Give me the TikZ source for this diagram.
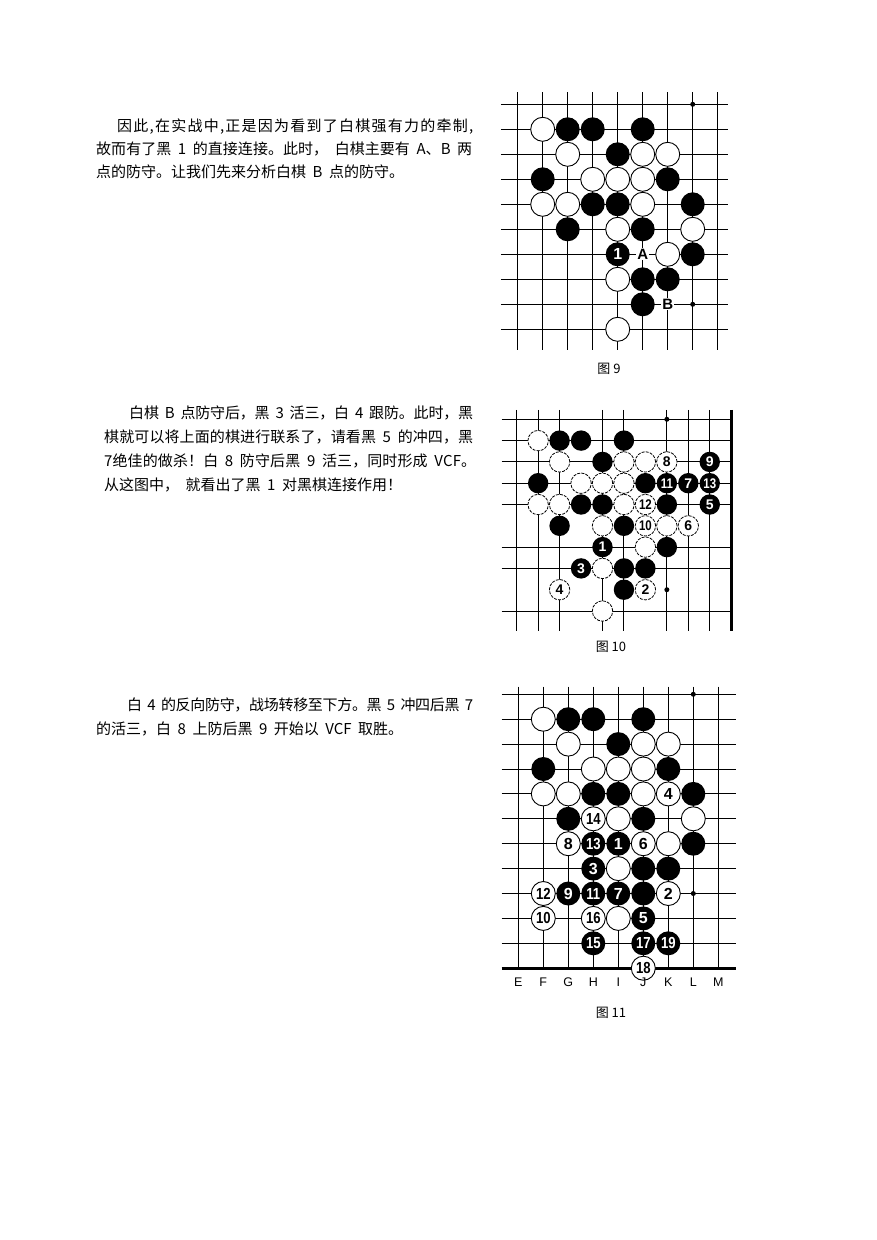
\documentclass[tikz,border=0pt]{standalone}
\usepackage{fontspec}
\usepackage{graphicx}
\newfontfamily\cjk{Noto Sans CJK SC}
\newfontfamily\bsans{Liberation Sans}
\def\sprend{\sprend}
\def\sprendtest{\sprend}
\def\spr#1{\def\sprtmp{#1}\ifx\sprtmp\sprendtest\else{#1}\hskip0pt plus 1fil minus 1pt\relax\expandafter\spr\fi}
\newcommand\jline[2]{\hbox to #1{\spr#2\sprend\unskip}}
\newcommand\dd[1]{\scalebox{0.82}[1]{#1}}
\newcommand\txtfont{\cjk\fontsize{15pt}{16pt}\selectfont\spaceskip=6.5pt minus 2pt\relax}
\begin{document}
\begin{tikzpicture}[x=1pt,y=-1pt,
  grid/.style={line width=1pt,black},
  edge/.style={line width=3pt,black},
  stoneA/.style={circle,inner sep=0pt,minimum size=24pt,font=\bsans\bfseries\fontsize{16pt}{16pt}\selectfont},
  bst/.style={stoneA,fill=black,text=white},
  wst/.style={stoneA,draw=black,line width=0.9pt,fill=white,text=black},
  stoneB/.style={circle,inner sep=0pt,minimum size=20.4pt,font=\bsans\bfseries\fontsize{14pt}{14pt}\selectfont},
  bstb/.style={stoneB,fill=black,text=white},
  wstb/.style={stoneB,draw=black,line width=0.8pt,dash pattern=on 3pt off 1.2pt,fill=white,text=black},
  starpt/.style={circle,fill=black,inner sep=0pt,minimum size=5pt},
  lbl/.style={fill=white,inner sep=1pt,font=\bsans\bfseries\fontsize{15pt}{15pt}\selectfont},
  collbl/.style={inner sep=0pt,font=\bsans\fontsize{12.5pt}{12.5pt}\selectfont},
  txt/.style={anchor=base west,inner sep=0pt,font=\txtfont},
  captxt/.style={inner sep=0pt,font=\cjk\fontsize{13pt}{15pt}\selectfont}
]
\fill[white] (0,0) rectangle (877,1240);
\useasboundingbox (0,0) rectangle (877,1240);

% ---------------- texts ----------------
\node[txt] (t1a) at (117,131) {\jline{356pt}{因此,在实战中,正是因为看到了白棋强有力的牵制,}};
\node[txt] (t1b) at (96,154) {\jline{376pt}{故而有了黑~1~的直接连接。此时，~白棋主要有~A、B~两}};
\node[txt] (t1c) at (96,177) {点的防守。让我们先来分析白棋 B 点的防守。};

\node[txt] (t2a) at (129,418) {\jline{344pt}{白棋~B~点防守后，黑~3~活三，白~4~跟防。此时，黑}};
\node[txt] (t2b) at (104,442) {\jline{369pt}{棋就可以将上面的棋进行联系了，请看黑~5~的冲四，黑}};
\node[txt] (t2c) at (104,466) {\jline{372pt}{7绝佳的做杀！白~8~防守后黑~9~活三，同时形成~V C F。}};
\node[txt] (t2d) at (104,490) {从这图中， 就看出了黑 1 对黑棋连接作用！};

\node[txt] (t3a) at (127,710) {\jline{346pt}{白~4~的反向防守，战场转移至下方。黑~5~冲四后黑~7}};
\node[txt] (t3b) at (96,734) {的活三，白 8 上防后黑 9 开始以 VCF 取胜。};

% ---------------- captions ----------------
\node[captxt] (cap9) at (609,369) {图 9};
\node[captxt] (cap10) at (611,647) {图 10};
\node[captxt] (cap11) at (611,1013) {图 11};

% ---------------- board 1 ----------------
\begin{scope}[shift={(517.7,104.3)},x=25pt,y=-25pt]
  \foreach \i in {0,...,8} \draw[grid] (\i,-0.49) -- (\i,9.83);
  \foreach \j in {0,...,9} \draw[grid] (-0.67,\j) -- (8.41,\j);
  \foreach \c/\r in {7/0,7/8} \node[starpt] (a\c-\r) at (\c,\r) {};
  \foreach \c/\r in {2/1,3/1,5/1,4/2,1/3,6/3,3/4,4/4,7/4,2/5,5/5,7/6,5/7,6/7,5/8}
    \node[bst] (a\c-\r) at (\c,\r) {};
  \foreach \c/\r/\n in {4/6/1}
    \node[bst] (a\c-\r) at (\c,\r) {\n};
  \foreach \c/\r in {1/1,2/2,5/2,6/2,3/3,4/3,5/3,1/4,2/4,5/4,4/5,7/5,6/6,4/7,4/9}
    \node[wst] (a\c-\r) at (\c,\r) {};
  \node[lbl] (aA) at (5,6) {A};
  \node[lbl] (aB) at (6,8) {B};
\end{scope}

% ---------------- board 2 ----------------
\begin{scope}[shift={(516.7,419.3)},x=21.45pt,y=-21.3pt]
  \foreach \i in {0,1,2,4,5,7,8,9} \draw[grid] (\i,-0.44) -- (\i,9.93);
  \draw[edge] (10,-0.44) -- (10,9.93);
  \foreach \j in {0,1,2,3,4,6,7,9} \draw[grid] (-0.7,\j) -- (10,\j);
  \foreach \c/\r in {7/0,7/8} \node[starpt] (b\c-\r) at (\c,\r) {};
  \foreach \c/\r in {2/1,3/1,5/1,4/2,1/3,6/3,3/4,4/4,7/4,2/5,5/5,7/6,5/7,6/7,5/8}
    \node[bstb] (b\c-\r) at (\c,\r) {};
  \foreach \c/\r/\n in {9/2/9,7/3/\dd{11},8/3/7,9/3/\dd{13},9/4/5,4/6/1,3/7/3}
    \node[bstb] (b\c-\r) at (\c,\r) {\n};
  \foreach \c/\r in {1/1,2/2,5/2,6/2,3/3,4/3,5/3,1/4,2/4,5/4,4/5,7/5,6/6,4/7,4/9}
    \node[wstb] (b\c-\r) at (\c,\r) {};
  \foreach \c/\r/\n in {7/2/8,6/4/\dd{12},6/5/\dd{10},8/5/6,2/8/4,6/8/2}
    \node[wstb] (b\c-\r) at (\c,\r) {\n};
\end{scope}

% ---------------- board 3 ----------------
\begin{scope}[shift={(518.3,694.3)},x=25pt,y=-24.9pt]
  \foreach \i in {0,...,8} \draw[grid] (\i,-0.31) -- (\i,11);
  \foreach \j in {0,...,10} \draw[grid] (-0.664,\j) -- (8.696,\j);
  \draw[edge] (-0.664,11) -- (8.696,11);
  \foreach \c/\r in {7/0,7/8} \node[starpt] (c\c-\r) at (\c,\r) {};
  \foreach \c/\r in {2/1,3/1,5/1,4/2,1/3,6/3,3/4,4/4,7/4,2/5,5/5,7/6,5/7,6/7,5/8}
    \node[bst] (c\c-\r) at (\c,\r) {};
  \foreach \c/\r/\n in {3/6/\dd{13},4/6/1,3/7/3,2/8/9,3/8/\dd{11},4/8/7,5/9/5,3/10/\dd{15},5/10/\dd{17},6/10/\dd{19}}
    \node[bst] (c\c-\r) at (\c,\r) {\n};
  \foreach \c/\r in {1/1,2/2,5/2,6/2,3/3,4/3,5/3,1/4,2/4,5/4,4/5,7/5,6/6,4/7,4/9}
    \node[wst] (c\c-\r) at (\c,\r) {};
  \foreach \c/\r/\n in {6/4/4,3/5/\dd{14},2/6/8,5/6/6,1/8/\dd{12},6/8/2,1/9/\dd{10},3/9/\dd{16},5/11/\dd{18}}
    \node[wst] (c\c-\r) at (\c,\r) {\n};
  \foreach \c/\l in {0/E,1/F,2/G,3/H,4/I,5/J,6/K,7/L,8/M}
    \node[collbl] (col\l) at (\c,11.58) {\l};
\end{scope}
\end{tikzpicture}
\end{document}
